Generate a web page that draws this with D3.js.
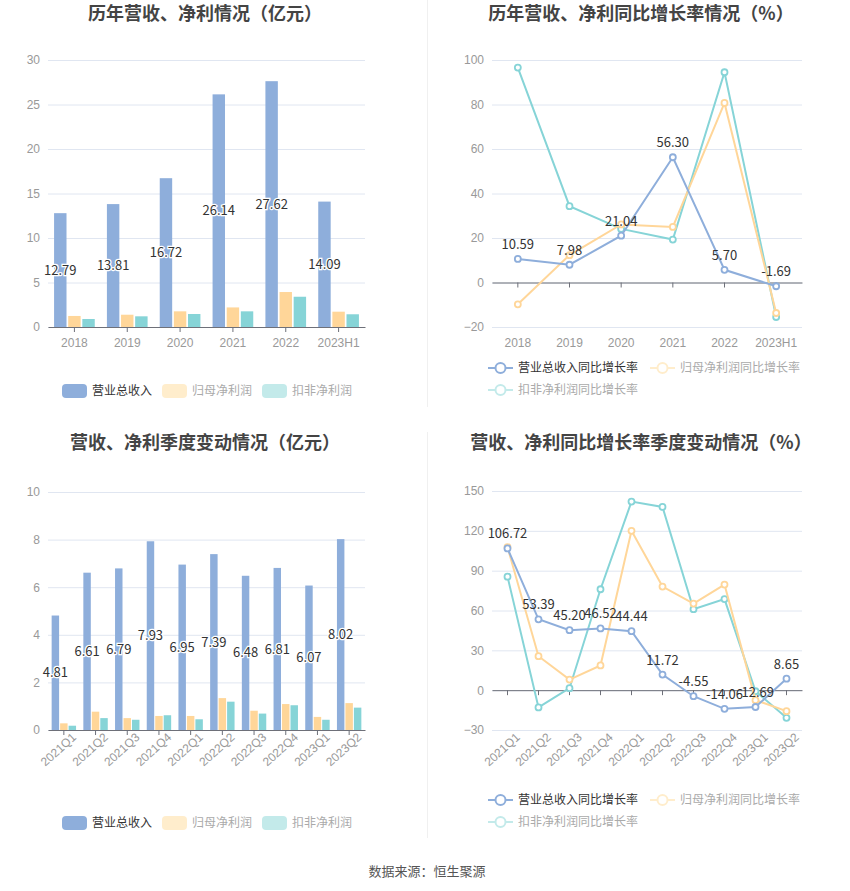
<!DOCTYPE html>
<html>
<head>
<meta charset="utf-8">
<script src="https://cdn.jsdelivr.net/npm/d3@7"></script>
<style>
  body { margin: 0; background: #fff; }
  svg { display: block; font-family: "Noto Sans CJK SC", "Noto Sans", sans-serif; }
</style>
</head>
<body>
<svg id="chart" width="850" height="891"></svg>
<script>
// annual data (亿元)
const years = ["2018", "2019", "2020", "2021", "2022", "2023H1"]
const yearRevenue = [12.79, 13.81, 16.72, 26.14, 27.62, 14.09]
const yearNetProfit = [1.24, 1.38, 1.76, 2.20, 3.93, 1.72]
const yearDeductedProfit = [0.90, 1.20, 1.46, 1.76, 3.40, 1.43]

// annual growth (%)
const yearRevenueGrowth = [10.59, 7.98, 21.04, 56.30, 5.70, -1.69]
const yearNetProfitGrowth = [-9.8, 12.3, 26.1, 25.0, 80.7, -13.7]
const yearDeductedGrowth = [96.6, 34.3, 24.1, 19.3, 94.5, -15.5]

// quarterly data (亿元)
const quarters = ["2021Q1", "2021Q2", "2021Q3", "2021Q4", "2022Q1", "2022Q2", "2022Q3", "2022Q4", "2023Q1", "2023Q2"]
const quarterRevenue = [4.81, 6.61, 6.79, 7.93, 6.95, 7.39, 6.48, 6.81, 6.07, 8.02]
const quarterNetProfit = [0.28, 0.77, 0.50, 0.59, 0.59, 1.34, 0.81, 1.09, 0.55, 1.13]
const quarterDeductedProfit = [0.18, 0.50, 0.43, 0.62, 0.45, 1.19, 0.69, 1.04, 0.43, 0.94]

// quarterly growth (%)
const quarterRevenueGrowth = [106.72, 53.39, 45.20, 46.52, 44.44, 11.72, -4.55, -14.06, -12.69, 8.65]
const quarterNetProfitGrowth = [107.7, 25.6, 8.0, 18.6, 120.0, 78.0, 65.2, 79.5, -7.5, -15.8]
const quarterDeductedGrowth = [85.5, -13.0, 1.5, 76.0, 142.0, 138.0, 61.0, 68.6, -0.8, -20.8]

const barNames = ["营业总收入", "归母净利润", "扣非净利润"]
const lineNames = ["营业总收入同比增长率", "归母净利润同比增长率", "扣非净利润同比增长率"]
const colors = ["#8eaedb", "#ffd699", "#86d4d7"]
const fadedColors = ["#8eaedb", "#ffedcc", "#c3eaea"]

const svg = d3.select("#chart")

// titles, dividers, source
const titles = [
    {text: "历年营收、净利情况（亿元）", x: 205, y: 14},
    {text: "历年营收、净利同比增长率情况（%）", x: 641, y: 14},
    {text: "营收、净利季度变动情况（亿元）", x: 205, y: 443},
    {text: "营收、净利同比增长率季度变动情况（%）", x: 641, y: 443}
]
svg.append("g")
    .selectAll("text")
    .data(titles)
    .join("text")
    .attr("x", d => d.x)
    .attr("y", d => d.y)
    .attr("dy", "0.35em")
    .attr("text-anchor", "middle")
    .attr("font-size", 18)
    .attr("font-weight", "bold")
    .attr("fill", "#444")
    .text(d => d.text)

svg.append("line").attr("x1", 427.5).attr("x2", 427.5).attr("y1", 0).attr("y2", 407).attr("stroke", "#f0f0f0")
svg.append("line").attr("x1", 427.5).attr("x2", 427.5).attr("y1", 432).attr("y2", 838).attr("stroke", "#f0f0f0")

svg.append("text")
    .attr("x", 427)
    .attr("y", 871)
    .attr("dy", "0.35em")
    .attr("text-anchor", "middle")
    .attr("font-size", 13)
    .attr("fill", "#555")
    .text("数据来源：恒生聚源")

function yGrid(g, y, ticks, left, right) {
    g.append("g")
        .attr("transform", `translate(${left},0)`)
        .call(d3.axisLeft(y).tickValues(ticks).tickSize(-(right - left)).tickPadding(8))
        .call(g => g.select(".domain").remove())
        .call(g => g.selectAll(".tick line").attr("stroke", "#e0e6f1"))
        .call(g => g.selectAll(".tick text").attr("fill", "#999").attr("font-size", 12))
}

// axis line + ticks at y0, labels at yLabel
function xAxis(g, x, y0, yLabel, rotate) {
    const ax = g.append("g")
        .attr("transform", `translate(0,${y0})`)
        .call(d3.axisBottom(x).tickSize(5).tickSizeOuter(0).tickFormat(""))
    ax.select(".domain").attr("stroke", "#6e7079")
    ax.selectAll(".tick line").attr("stroke", "#6e7079")

    const lab = g.append("g")
        .attr("transform", `translate(0,${yLabel})`)
        .call(d3.axisBottom(x).tickSize(0).tickPadding(11))
    lab.select(".domain").remove()
    lab.selectAll(".tick text").attr("fill", "#999").attr("font-size", 12)
    if (rotate) {
        lab.selectAll(".tick text")
            .attr("text-anchor", "end")
            .attr("dy", "0.35em")
            .attr("transform", "translate(3,-3) rotate(-42)")
    }
}

function barPanel(o) {
    const g = svg.append("g")
    const x = d3.scaleBand().domain(o.cats).range([o.left, o.right])
    const y = d3.scaleLinear().domain(o.domain).range([o.bottom, o.top])
    const bw = x.bandwidth()
    const x1 = d3.scaleBand().domain(d3.range(3)).range([bw * 0.115, bw * 0.885]).paddingInner(0.12)

    yGrid(g, y, o.ticks, o.left, o.right)

    o.series.forEach((vals, s) => {
        g.append("g")
            .attr("fill", colors[s])
            .selectAll("rect")
            .data(vals)
            .join("rect")
            .attr("x", (d, i) => x(o.cats[i]) + x1(s))
            .attr("y", d => y(d))
            .attr("width", x1.bandwidth())
            .attr("height", d => y(0) - y(d))
    })

    xAxis(g, x, y(0), o.bottom, o.rotate)

    g.append("g")
        .attr("text-anchor", "middle")
        .attr("font-size", 13)
        .attr("fill", "#333")
        .attr("stroke", "#fff")
        .attr("stroke-width", 2.5)
        .attr("paint-order", "stroke")
        .selectAll("text")
        .data(o.series[0])
        .join("text")
        .attr("x", (d, i) => x(o.cats[i]) + x1(0) + x1.bandwidth() / 2)
        .attr("y", d => (y(d) + y(0)) / 2)
        .attr("dy", "0.35em")
        .text(d => d.toFixed(2))

    // legend
    const lg = g.append("g").attr("transform", `translate(${o.legendX},${o.legendY})`)
    const items = lg.selectAll("g").data(barNames).join("g")
        .attr("transform", (d, i) => `translate(${i * 100},0)`)
    items.append("rect")
        .attr("x", 0).attr("y", -7).attr("width", 25).attr("height", 14).attr("rx", 4)
        .attr("fill", (d, i) => fadedColors[i])
    items.append("text")
        .attr("x", 30).attr("dy", "0.35em")
        .attr("font-size", 12)
        .attr("fill", (d, i) => i == 0 ? "#333" : "#aaa")
        .text(d => d)
}

function linePanel(o) {
    const g = svg.append("g")
    const x = d3.scaleBand().domain(o.cats).range([o.left, o.right])
    const y = d3.scaleLinear().domain(o.domain).range([o.bottom, o.top])
    const cx = i => x(o.cats[i]) + x.bandwidth() / 2

    yGrid(g, y, o.ticks, o.left, o.right)
    xAxis(g, x, y(0), o.bottom, o.rotate)

    const line = d3.line().x((d, i) => cx(i)).y(d => y(d))

    // draw cyan, yellow, then blue on top
    ;[2, 1, 0].forEach(s => {
        const vals = o.series[s]
        g.append("path")
            .datum(vals)
            .attr("fill", "none")
            .attr("stroke", colors[s])
            .attr("stroke-width", 2)
            .attr("d", line)
        g.append("g")
            .selectAll("circle")
            .data(vals)
            .join("circle")
            .attr("cx", (d, i) => cx(i))
            .attr("cy", d => y(d))
            .attr("r", 3)
            .attr("fill", "#fff")
            .attr("stroke", colors[s])
            .attr("stroke-width", 1.8)
    })

    g.append("g")
        .attr("text-anchor", "middle")
        .attr("font-size", 13)
        .attr("fill", "#333")
        .selectAll("text")
        .data(o.series[0])
        .join("text")
        .attr("x", (d, i) => cx(i))
        .attr("y", d => y(d) - 10)
        .text(d => d.toFixed(2))

    // legend
    const pos = [[0, 0], [162, 0], [0, 22]]
    const lg = g.append("g").attr("transform", `translate(${o.legendX},${o.legendY})`)
    const items = lg.selectAll("g").data(lineNames).join("g")
        .attr("transform", (d, i) => `translate(${pos[i][0]},${pos[i][1]})`)
    items.append("line")
        .attr("x1", 0).attr("x2", 25)
        .attr("stroke", (d, i) => fadedColors[i])
        .attr("stroke-width", 2)
    items.append("circle")
        .attr("cx", 12.5).attr("r", 5)
        .attr("fill", "#fff")
        .attr("stroke", (d, i) => fadedColors[i])
        .attr("stroke-width", 2)
    items.append("text")
        .attr("x", 30).attr("dy", "0.35em")
        .attr("font-size", 12)
        .attr("fill", (d, i) => i == 0 ? "#333" : "#aaa")
        .text(d => d)
}

barPanel({
    cats: years,
    series: [yearRevenue, yearNetProfit, yearDeductedProfit],
    domain: [0, 30], ticks: d3.range(0, 31, 5),
    left: 48, right: 365, top: 60, bottom: 327,
    legendX: 62, legendY: 391, rotate: false
})

linePanel({
    cats: years,
    series: [yearRevenueGrowth, yearNetProfitGrowth, yearDeductedGrowth],
    domain: [-20, 100], ticks: d3.range(-20, 101, 20),
    left: 492, right: 802, top: 60, bottom: 327,
    legendX: 488, legendY: 368, rotate: false
})

barPanel({
    cats: quarters,
    series: [quarterRevenue, quarterNetProfit, quarterDeductedProfit],
    domain: [0, 10], ticks: d3.range(0, 11, 2),
    left: 48, right: 365, top: 492, bottom: 730,
    legendX: 62, legendY: 823, rotate: true
})

linePanel({
    cats: quarters,
    series: [quarterRevenueGrowth, quarterNetProfitGrowth, quarterDeductedGrowth],
    domain: [-30, 150], ticks: d3.range(-30, 151, 30),
    left: 492, right: 802, top: 491, bottom: 730,
    legendX: 488, legendY: 800, rotate: true
})
</script>
</body>
</html>
